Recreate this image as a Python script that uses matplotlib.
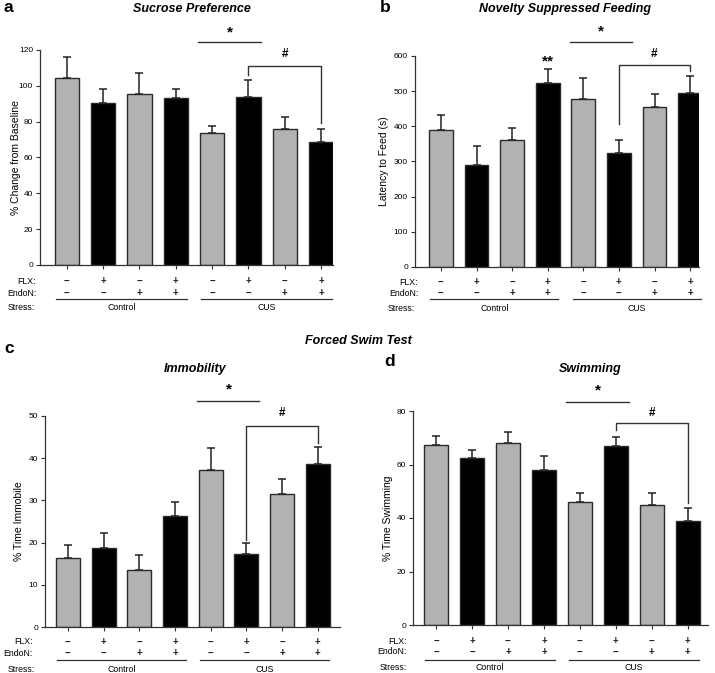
import matplotlib
matplotlib.use('Agg')
from matplotlib import pyplot as plt
from matplotlib import transforms

plt.rcParams['font.family'] = ['Liberation Sans', 'DejaVu Sans']

W, H = 715, 673

flx = ['\u2212', '+', '\u2212', '+', '\u2212', '+', '\u2212', '+']
endon = ['\u2212', '\u2212', '+', '+', '\u2212', '\u2212', '+', '+']
bar_colors = ['#b2b2b2', '#000000'] * 4

# values (mean, upper sem)
sucrose_mean = [104.6, 90.2, 95.6, 93.0, 73.5, 93.6, 75.9, 68.8]
sucrose_sem = [11.3, 7.8, 11.7, 5.0, 4.1, 9.7, 6.9, 6.9]
nsf_mean = [390, 290, 361, 524, 477, 324, 456, 496]
nsf_sem = [42, 54, 35, 38, 61, 36, 36, 47]
immob_mean = [16.4, 18.75, 13.6, 26.3, 37.2, 17.4, 31.6, 38.6]
immob_sem = [3.0, 3.45, 3.4, 3.4, 5.1, 2.4, 3.4, 4.0]
swim_mean = [67.2, 62.6, 68.0, 57.8, 46.0, 66.8, 45.0, 38.9]
swim_sem = [3.3, 2.9, 4.1, 5.2, 3.5, 3.5, 4.5, 5.0]

fig = plt.figure(figsize=(W / 100, H / 100), dpi=100)


def fy(y):
    return 1 - y / H


def fx(x):
    return x / W


def panel(box, xlim, ylim, step, mean, sem, title, ylabel, letter, pos):
    # box = left, right, top, bottom in pixels
    l, r, t, b = box
    ax = fig.add_axes([fx(l), fy(b), fx(r - l), (b - t) / H])
    xs = list(range(8))
    ax.bar(xs, mean, width=0.67, color=bar_colors, edgecolor='#2a2a2a', linewidth=1.0, zorder=2)
    ax.errorbar(xs, mean, yerr=[[0] * 8, sem], fmt='none', ecolor='#222222', elinewidth=1.1,
                capsize=3, capthick=1.1, zorder=1)
    ax.set_xlim(xlim)
    ax.set_ylim(ylim)
    ax.set_yticks(range(0, ylim[1] + 1, step))
    ax.set_xticks(xs)
    ax.set_xticklabels([])
    for s in ['top', 'right']:
        ax.spines[s].set_visible(False)
    for s in ['left', 'bottom']:
        ax.spines[s].set_linewidth(0.9)
        ax.spines[s].set_color('#333333')
    ax.tick_params(axis='both', length=3, width=0.8, labelsize=6, color='#333333', pad=2)
    ax.set_ylabel(ylabel, fontsize=7.5)
    ax.yaxis.set_label_coords(fx(pos['ylab_x']), fy((t + b) / 2), transform=fig.transFigure)
    ax.yaxis.label.set_va('center')
    fig.text(fx(pos['title_x']), fy(pos['title_y']), title, fontsize=9, fontweight='bold',
             fontstyle='italic', ha='center', va='center')
    fig.text(fx(pos['letter'][0]), fy(pos['letter'][1]), letter, fontsize=12.5, fontweight='bold',
             ha='left', va='center')

    tr = transforms.blended_transform_factory(ax.transData, fig.transFigure)
    ry = pos['rows']
    for i in xs:
        ax.text(i, fy(ry[0]), flx[i], transform=tr, ha='center', va='center', fontsize=7,
                fontweight='bold', color='#222222')
        ax.text(i, fy(ry[1]), endon[i], transform=tr, ha='center', va='center', fontsize=7,
                fontweight='bold', color='#222222')
    fig.text(fx(pos['flx_x']), fy(ry[0]), 'FLX:', ha='right', va='center', fontsize=6.3)
    fig.text(fx(pos['flx_x']), fy(ry[1]), 'EndoN:', ha='right', va='center', fontsize=6.3)
    fig.text(fx(pos['stress_x']), fy(ry[3]), 'Stress:', ha='left', va='center', fontsize=6.3)
    for g, name in [(0, 'Control'), (4, 'CUS')]:
        ax.plot([g - 0.3, g + 3.3], [fy(ry[2]), fy(ry[2])], transform=tr, color='#333333',
                lw=0.9, clip_on=False)
        ax.text(g + 1.5, fy(ry[3]), name, transform=tr, ha='center', va='center', fontsize=6.3)

    # significance marks
    s = pos['sig']
    ax.plot([3.62, 5.36], [s['star_line'], s['star_line']], color='#333333', lw=1.0, clip_on=False)
    ax.text(4.5, s['star'], '*', ha='center', va='center', fontsize=11, fontweight='bold')
    ax.plot([5, 5, 7, 7], [s['left_leg'], s['top'], s['top'], s['right_leg']], color='#333333',
            lw=1.0, clip_on=False)
    ax.text(6, s['hash'], '#', ha='center', va='center', fontsize=8.5, fontweight='bold')
    if 'dstar' in s:
        ax.text(3, s['dstar'], '**', ha='center', va='center', fontsize=11, fontweight='bold')
    return ax


panel((40, 333, 50, 265), (-0.74, 7.33), (0, 120), 20, sucrose_mean, sucrose_sem,
      'Sucrose Preference', '% Change from Baseline', 'a',
      {'title_x': 192, 'title_y': 9, 'letter': (3, 7), 'rows': (281, 293, 299, 308),
       'stress_x': 8, 'flx_x': 36, 'ylab_x': 16,
       'sig': {'star_line': 124.5, 'star': 130, 'top': 111, 'left_leg': 106, 'right_leg': 79,
               'hash': 118}})

panel((415, 699, 56, 267), (-0.73, 7.25), (0, 600), 100, nsf_mean, nsf_sem,
      'Novelty Suppressed Feeding', 'Latency to Feed (s)', 'b',
      {'title_x': 565, 'title_y': 9, 'letter': (380, 8), 'rows': (282, 293, 299, 309),
       'stress_x': 388, 'flx_x': 418, 'ylab_x': 384,
       'sig': {'star_line': 640, 'star': 670, 'top': 574, 'left_leg': 407, 'right_leg': 557,
               'hash': 606, 'dstar': 585}})

panel((45, 340, 416, 627), (-0.64, 7.62), (0, 50), 10, immob_mean, immob_sem,
      'Immobility', '% Time Immobile', 'c',
      {'title_x': 195, 'title_y': 369, 'letter': (4, 348), 'rows': (642, 653, 660, 670),
       'stress_x': 8, 'flx_x': 33, 'ylab_x': 19,
       'sig': {'star_line': 53.6, 'star': 56.2, 'top': 47.6, 'left_leg': 20.6, 'right_leg': 43.6,
               'hash': 50.7}})

panel((413, 708, 411, 625), (-0.64, 7.56), (0, 80), 20, swim_mean, swim_sem,
      'Swimming', '% Time Swimming', 'd',
      {'title_x': 590, 'title_y': 369, 'letter': (384, 362), 'rows': (641, 652, 660, 668),
       'stress_x': 380, 'flx_x': 407, 'ylab_x': 388,
       'sig': {'star_line': 83.4, 'star': 87.5, 'top': 75.5, 'left_leg': 72.9, 'right_leg': 45.6,
               'hash': 79.3}})

fig.text(fx(358), fy(341), 'Forced Swim Test', fontsize=9, fontweight='bold', fontstyle='italic',
         ha='center', va='center')

fig.savefig('out.png', dpi=100)
